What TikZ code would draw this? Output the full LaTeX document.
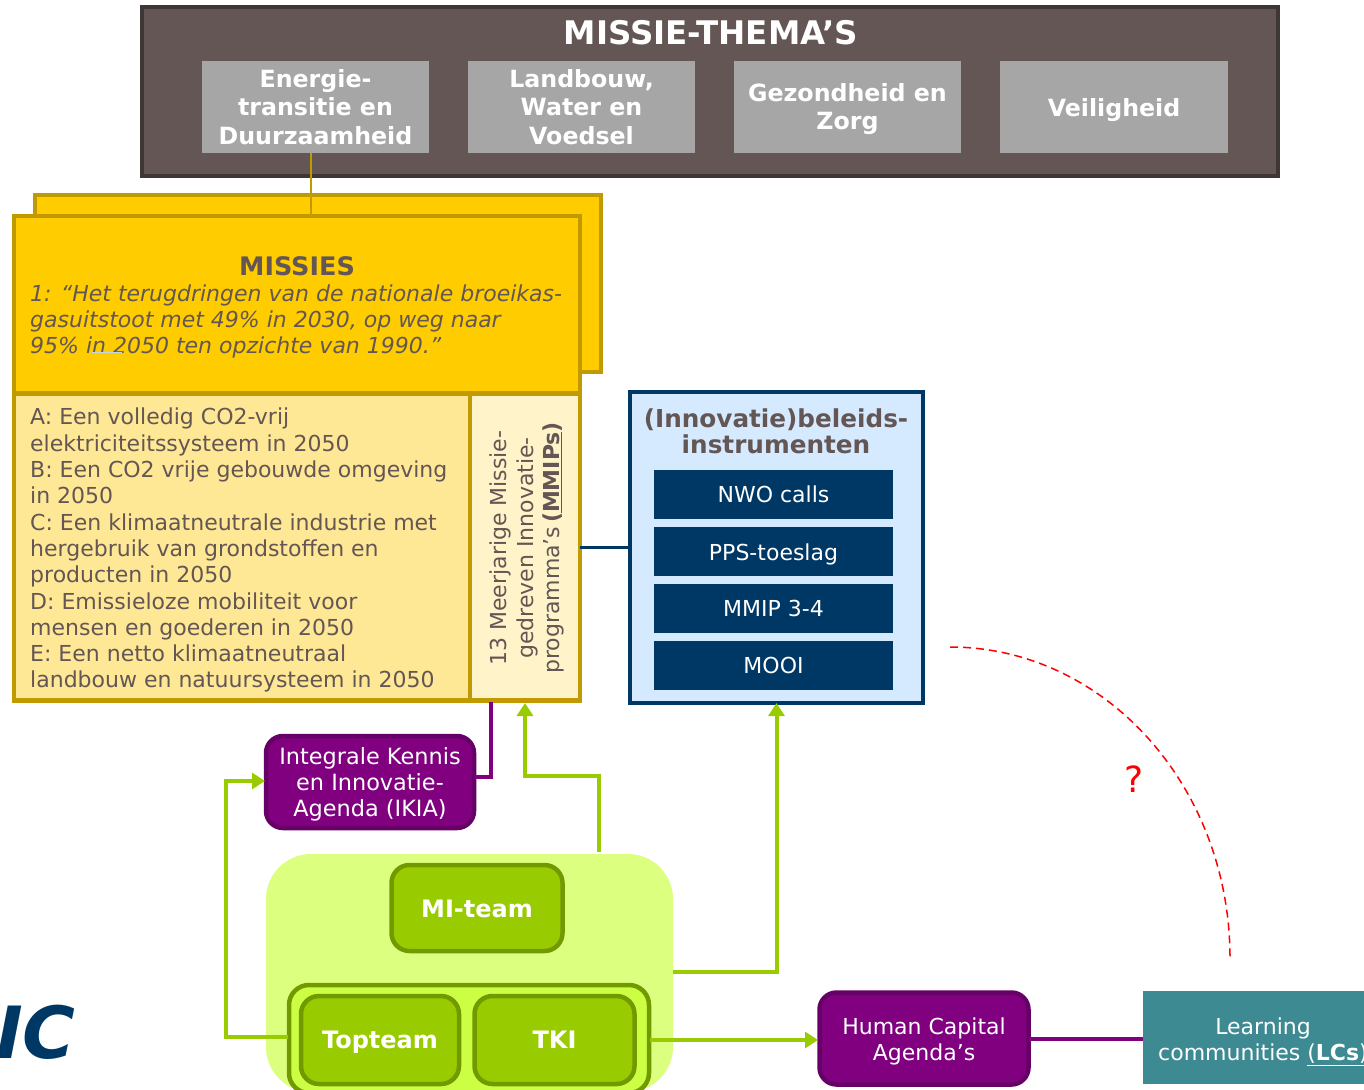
\documentclass[tikz,border=0pt]{standalone}
\usepackage{fontspec}
\setmainfont{DejaVu Sans}
\usetikzlibrary{arrows.meta}
\definecolor{banner}{HTML}{635654}
\definecolor{bannerline}{HTML}{3F3735}
\definecolor{themegray}{HTML}{A6A6A6}
\definecolor{gold}{HTML}{FFCC00}
\definecolor{goldline}{HTML}{C09A00}
\definecolor{lightgold}{HTML}{FFE895}
\definecolor{palegold}{HTML}{FFF3C9}
\definecolor{navy}{HTML}{003865}
\definecolor{paleblue}{HTML}{D5EAFF}
\definecolor{purp}{HTML}{800080}
\definecolor{purpline}{HTML}{660066}
\definecolor{grn}{HTML}{99CC00}
\definecolor{grnline}{HTML}{739900}
\definecolor{palegrn}{HTML}{DDFF80}
\definecolor{midgrn}{HTML}{CCFF44}
\definecolor{teal2}{HTML}{3E8A93}
\newcommand{\fs}[2]{\fontsize{#1}{#2}\selectfont}
\newcommand{\low}[2]{\raisebox{0pt}[\dimexpr\height+#1pt*2\relax][\depth]{\begin{tabular}{@{}c@{}}#2\end{tabular}}}
\tikzset{
  x=1pt,y=-1pt,
  pbox/.style={anchor=center,outer sep=0pt,inner sep=0pt,align=center,line width=4.5pt},
  theme/.style={pbox,fill=themegray,minimum width=227,minimum height=92,text=white,font=\fs{23.7}{28.5}\bfseries},
  bar/.style={pbox,fill=navy,minimum width=239,minimum height=49,text=white,font=\fs{22}{26}},
  purpbox/.style={pbox,draw=purpline,fill=purp,rounded corners=17pt,text=white,font=\fs{22.4}{26}},
  grnbox/.style={pbox,draw=grnline,fill=grn,rounded corners=18pt,text=white,font=\fs{24}{26}\bfseries},
  yellowbox/.style={pbox,draw=goldline,fill=gold},
  grnlink/.style={draw=grn,line width=4pt,-{Triangle[length=13pt,width=16pt]}},
  purplink/.style={draw=purp,line width=4pt},
}
\begin{document}
\begin{tikzpicture}
\clip (0,0) rectangle (1364,1089);
% banner
\node[pbox,line width=4pt,draw=bannerline,fill=banner,minimum width=1136,minimum height=168] (banner) at (710,91.5) {};
\node[text=white,font=\fs{32.5}{36}\bfseries,inner sep=0pt] (bannertitle) at (711,33) {MISSIE-THEMA’S};
\node[theme] (t1) at (315.5,107) {Energie-\\transitie en\\Duurzaamheid};
\node[theme] (t2) at (581.5,107) {Landbouw,\\Water en\\Voedsel};
\node[theme] (t3) at (847.5,107) {\low{3}{Gezondheid en\\Zorg}};
\node[theme,minimum width=228] (t4) at (1114,107) {\low{4}{Veiligheid}};
% missions
\node[yellowbox,minimum width=566,minimum height=177] (back) at (318,283.5) {};
\coordinate (tlink) at (311,153);
\node[yellowbox,minimum width=566,minimum height=177] (front) at (297,304.5) {};
\coordinate (tlinkb) at (311,215);
\draw[goldline,line width=2pt] (tlink) -- (tlinkb);
\node[font=\fs{25.5}{26}\bfseries,text=banner,inner sep=0pt] (misttl) at (297,266) {MISSIES};
\node[font=\fs{22}{26}\itshape,text=banner,align=left,anchor=north west,inner sep=0pt] (mistxt) at (30,285) {1: “Het terugdringen van de nationale broeikas-\\gasuitstoot met 49\% in 2030, op weg naar\\95\% in 2050 ten opzichte van 1990.”};
\coordinate (ula) at (92,352);\coordinate (ulb) at (122,352);
\draw[cyan!35!gray!40,line width=1pt] (ula) -- (ulb);
\node[pbox,draw=goldline,fill=lightgold,minimum width=456,minimum height=307] (goals) at (242,547) {};
\node[pbox,draw=goldline,fill=palegold,minimum width=110,minimum height=307] (mmip) at (525,547) {};
\node[font=\fs{22}{26.3},text=banner,align=left,anchor=north west,inner sep=0pt] (goaltxt) at (30,408) {A: Een volledig CO2-vrij\\elektriciteitssysteem in 2050\\B: Een CO2 vrije gebouwde omgeving\\in 2050\\C: Een klimaatneutrale industrie met\\hergebruik van grondstoffen en\\producten in 2050\\D: Emissieloze mobiliteit voor\\mensen en goederen in 2050\\E: Een netto klimaatneutraal\\landbouw en natuursysteem in 2050};
\node[font=\fs{22}{26.5},text=banner,align=center,rotate=90,inner sep=0pt] (mmiptxt) at (527,548) {13 Meerjarige Missie-\\gedreven Innovatie-\\programma’s\,{\bfseries(\underline{MMIPs})}};
% instruments
\node[pbox,draw=navy,fill=paleblue,minimum width=293,minimum height=311] (instr) at (776.5,547.5) {};
\node[font=\fs{24.7}{26}\bfseries,text=banner,align=center,inner sep=0pt] (instrttl) at (776,431) {(Innovatie)beleids-\\instrumenten};
\node[bar] (b1) at (773.5,494.5) {NWO calls};
\node[bar] (b2) at (773.5,551.5) {\low{4}{PPS-toeslag}};
\node[bar] (b3) at (773.5,608.5) {MMIP 3-4};
\node[bar] (b4) at (773.5,665) {MOOI};
\draw[navy,line width=3pt] (mmip.east |- instr.west) -- (instr.west);
% purple
\node[purpbox,minimum width=208,minimum height=92] (ikia) at (370,782) {\low{3}{Integrale Kennis\\en Innovatie-\\Agenda (IKIA)}};
\coordinate (pa) at (491,702);\coordinate (pb) at (475,777);
\draw[purplink] (pa) |- (pb);
% green group
\node[pbox,fill=palegrn,rounded corners=45pt,minimum width=407,minimum height=238] (group) at (469.5,973) {};
\node[grnbox,minimum width=171,minimum height=86] (mi) at (477,908) {\low{4}{MI-team}};
\node[pbox,draw=grnline,fill=midgrn,rounded corners=20pt,minimum width=360,minimum height=108] (duo) at (469,1039) {};
\node[grnbox,minimum width=158,minimum height=88] (top) at (380,1040) {\low{3}{Topteam}};
\node[grnbox,minimum width=160,minimum height=88] (tki) at (554.5,1040) {\low{3}{TKI}};
% right side
\node[purpbox,font=\fs{22}{26},minimum width=209,minimum height=92] (hca) at (924,1038.5) {\low{4}{Human Capital\\Agenda’s}};
\node[pbox,fill=teal2,minimum width=240,minimum height=93,text=white,font=\fs{22}{26},anchor=west] (lc) at (1143,1037.5) {\low{5}{Learning\\communities \underline{(\textbf{LCs})}}};
\draw[purplink] (hca.east) -- (hca.east -| lc.west);
% green connectors
\coordinate (ga) at (599,852);\coordinate (gb) at (525,703);
\draw[grnlink] (ga) -- (599,776) -| (gb);
\coordinate (gc) at (288,1037);\coordinate (gd) at (265,781);
\draw[grnlink] (gc) -- (226,1037) |- (gd);
\coordinate (ge) at (673,972);
\draw[grnlink] (ge) -| (instr.south);
\coordinate (gf) at (650,1040);\coordinate (gg) at (818,1040);
\draw[grnlink] (gf) -- (gg);
% dashed arc
\coordinate (ra) at (950,647);
\draw[red,line width=1.5pt,dash pattern=on 8pt off 5pt] (ra) arc[start angle=90,end angle=0,x radius=280pt,y radius=311pt];
\node[red,font=\fs{36}{40},inner sep=0pt] (q) at (1134,779) {?};
% logo
\node[navy,font=\fs{72}{72}\bfseries\itshape,anchor=east,inner sep=0pt] (logo) at (76,1032) {IC};
\end{tikzpicture}
\end{document}
